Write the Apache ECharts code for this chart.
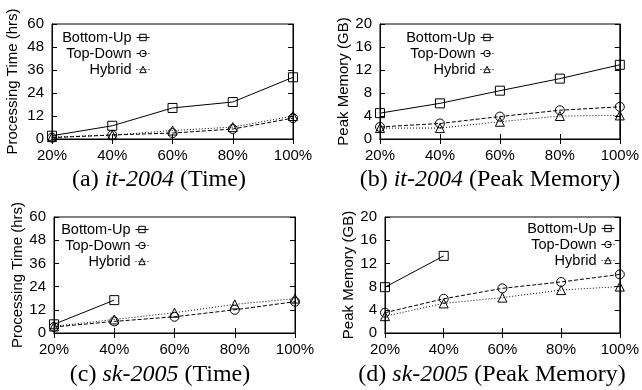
<!DOCTYPE html>
<html>
<head>
<meta charset="utf-8">
<script src="https://cdn.jsdelivr.net/npm/echarts@6/dist/echarts.min.js"></script>
<style>
  html, body { margin: 0; padding: 0; background: #fff; }
  #main { width: 642px; height: 390px; }
</style>
</head>
<body>
<div id="main"></div>
<script>
// x categories shared by all four panels
var sizes = ['20%', '40%', '60%', '80%', '100%'];
var seriesNames = ['Bottom-Up', 'Top-Down', 'Hybrid'];

// (a) it-2004 time (hrs)
var itTimeBU = [1.7, 6.9, 16.2, 19.3, 32.2];
var itTimeTD = [0.7, 2.1, 3.1, 5.2, 10.9];
var itTimeHY = [1.0, 2.0, 4.4, 6.2, 12.0];
// (b) it-2004 peak memory (GB)
var itMemBU = [4.5, 6.2, 8.4, 10.5, 12.9];
var itMemTD = [2.1, 2.7, 3.9, 5.0, 5.6];
var itMemHY = [1.9, 1.9, 3.0, 4.0, 4.1];
// (c) sk-2005 time (hrs)
var skTimeBU = [4.5, 17.0, null, null, null];
var skTimeTD = [3.1, 6.0, 8.4, 12.0, 16.2];
var skTimeHY = [3.4, 7.0, 10.5, 14.8, 17.8];
// (d) sk-2005 peak memory (GB)
var skMemBU = [7.9, 13.3, null, null, null];
var skMemTD = [3.5, 5.9, 7.7, 8.8, 10.1];
var skMemHY = [2.9, 5.1, 6.1, 7.4, 8.0];

var timeTicks = { max: 60, interval: 12 };
var memTicks = { max: 20, interval: 4 };

var sans = 'Liberation Sans';
var serif = 'Liberation Serif';

var grids = [
  { left: 52, top: 24, width: 241, height: 115 },
  { left: 380, top: 24, width: 243, height: 115 },
  { left: 54, top: 217, width: 241, height: 116 },
  { left: 385, top: 217, width: 240, height: 116 }
];

var panels = [
  { yName: 'Processing Time (hrs)', ticks: timeTicks, gap: 32, data: [itTimeBU, itTimeTD, itTimeHY] },
  { yName: 'Peak Memory (GB)', ticks: memTicks, gap: 28, data: [itMemBU, itMemTD, itMemHY] },
  { yName: 'Processing Time (hrs)', ticks: timeTicks, gap: 29, data: [skTimeBU, skTimeTD, skTimeHY] },
  { yName: 'Peak Memory (GB)', ticks: memTicks, gap: 29, data: [skMemBU, skMemTD, skMemHY] }
];

var captions = [
  { label: '(a) ', name: 'it-2004', what: ' (Time)', x: 159, y: 168 },
  { label: '(b) ', name: 'it-2004', what: ' (Peak Memory)', x: 490, y: 168 },
  { label: '(c) ', name: 'sk-2005', what: ' (Time)', x: 160, y: 363 },
  { label: '(d) ', name: 'sk-2005', what: ' (Peak Memory)', x: 492, y: 363 }
];

// legend icon right edge and top for each panel
var legendPos = [
  { right: 492, top: 30 },
  { right: 148, top: 30 },
  { right: 493, top: 222 },
  { right: 27, top: 221 }
];

var styles = [
  { symbol: 'rect', type: 'solid' },
  { symbol: 'circle', type: [4, 2] },
  { symbol: 'triangle', type: [1, 2] }
];

var black = '#000';
var clear = 'rgba(0,0,0,0)';
var xAxis = [], yAxis = [], series = [], legend = [], title = [];

panels.forEach(function (p, i) {
  xAxis.push({
    type: 'category', gridIndex: i, data: sizes, boundaryGap: false,
    axisLine: { lineStyle: { color: black } },
    axisTick: { inside: true, length: 5, lineStyle: { color: black } },
    axisLabel: { color: black, fontFamily: sans, fontSize: 15, margin: 9 }
  });
  xAxis.push({
    type: 'category', gridIndex: i, data: sizes, boundaryGap: false, position: 'top',
    axisLine: { lineStyle: { color: black } },
    axisTick: { inside: true, length: 5, lineStyle: { color: black } },
    axisLabel: { show: false }
  });
  yAxis.push({
    type: 'value', gridIndex: i, min: 0, max: p.ticks.max, interval: p.ticks.interval,
    name: p.yName, nameLocation: 'middle', nameGap: p.gap,
    nameTextStyle: { color: black, fontFamily: sans, fontSize: 15 },
    splitLine: { show: false },
    axisLine: { show: true, lineStyle: { color: black } },
    axisTick: { show: true, inside: true, length: 5, lineStyle: { color: black } },
    axisLabel: { color: black, fontFamily: sans, fontSize: 15, margin: 8 }
  });
  yAxis.push({
    type: 'value', gridIndex: i, min: 0, max: p.ticks.max, interval: p.ticks.interval, position: 'right',
    splitLine: { show: false },
    axisLine: { show: true, lineStyle: { color: black } },
    axisTick: { show: true, inside: true, length: 5, lineStyle: { color: black } },
    axisLabel: { show: false }
  });

  var names = [];
  p.data.forEach(function (vals, k) {
    var id = seriesNames[k] + ' ' + i;
    names.push(id);
    series.push({
      name: id, type: 'line', xAxisIndex: i * 2, yAxisIndex: i * 2, data: vals,
      symbol: styles[k].symbol, symbolSize: 9, connectNulls: false,
      itemStyle: { color: clear, borderColor: black, borderWidth: 1 },
      lineStyle: { color: black, width: 1, type: styles[k].type },
      animation: false
    });
  });

  legend.push({
    data: names, orient: 'vertical', align: 'right',
    right: legendPos[i].right, top: legendPos[i].top, padding: 0,
    itemWidth: 13, itemHeight: 8, itemGap: 1, selectedMode: false,
    itemStyle: { color: clear, borderColor: black, borderWidth: 1 },
    lineStyle: { color: black, width: 1 },
    formatter: function (n) { return n.replace(/ \d$/, ''); },
    textStyle: { color: black, fontFamily: sans, fontSize: 14.5, padding: [0, 0, 0, 0] }
  });

  var c = captions[i];
  title.push({
    text: '{n|' + c.label + '}{i|' + c.name + '}{n|' + c.what + '}',
    left: c.x, top: c.y, textAlign: 'center', padding: 0,
    textStyle: {
      fontWeight: 'normal',
      rich: {
        n: { fontFamily: serif, fontSize: 24, fontWeight: 'normal', color: black },
        i: { fontFamily: serif, fontSize: 24, fontWeight: 'normal', fontStyle: 'italic', color: black }
      }
    }
  });
});

var chart = echarts.init(document.getElementById('main'));
chart.setOption({
  backgroundColor: '#fff',
  animation: false,
  title: title,
  legend: legend,
  grid: grids.map(function (g) {
    return Object.assign({ show: true, borderColor: black, borderWidth: 1, backgroundColor: 'transparent' }, g);
  }),
  xAxis: xAxis,
  yAxis: yAxis,
  series: series
});
</script>
</body>
</html>
